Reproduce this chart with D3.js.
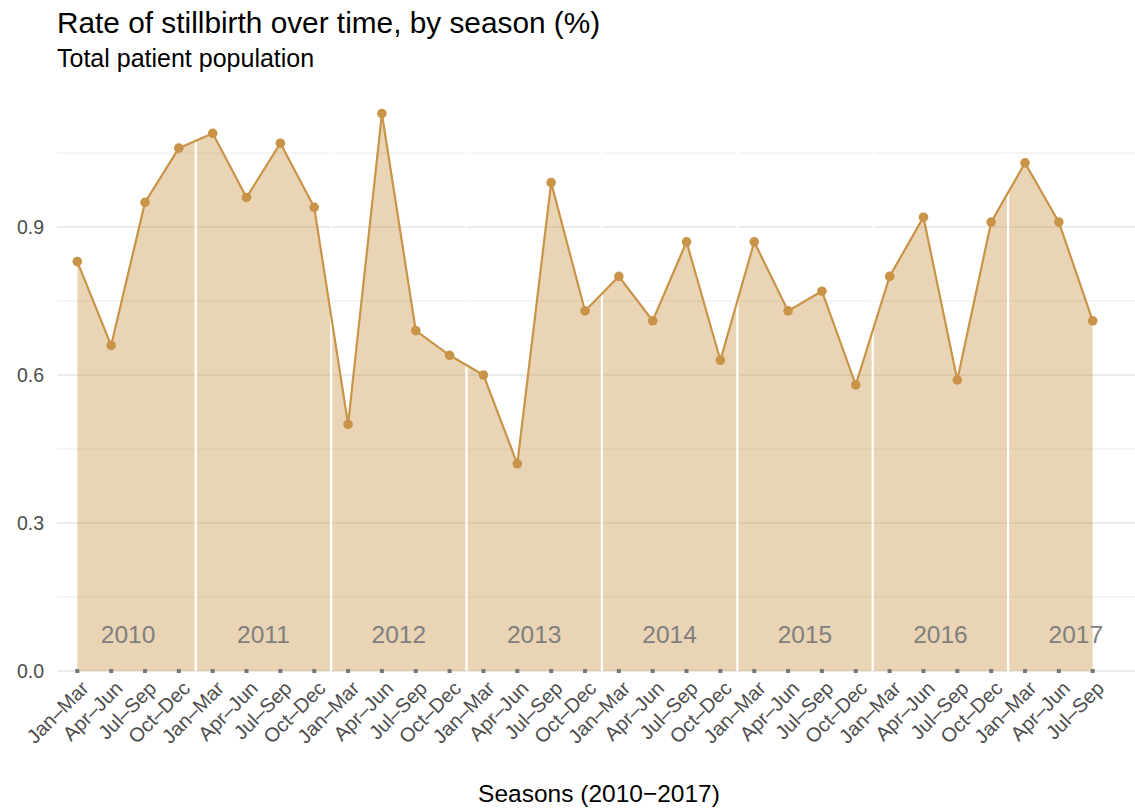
<!DOCTYPE html>
<html>
<head>
<meta charset="utf-8">
<script src="https://cdn.jsdelivr.net/npm/d3@7"></script>
<style>
  body { margin: 0; background: #fff; }
  svg { font-family: "Liberation Sans", Arial, sans-serif; }
</style>
</head>
<body>
<div id="chart"></div>
<script>
const years = [2010, 2011, 2012, 2013, 2014, 2015, 2016, 2017];
const seasons = ["Jan–Mar", "Apr–Jun", "Jul–Sep", "Oct–Dec"];
const rates = [
  0.83, 0.66, 0.95, 1.06,
  1.09, 0.96, 1.07, 0.94,
  0.50, 1.13, 0.69, 0.64,
  0.60, 0.42, 0.99, 0.73,
  0.80, 0.71, 0.87, 0.63,
  0.87, 0.73, 0.77, 0.58,
  0.80, 0.92, 0.59, 0.91,
  1.03, 0.91, 0.71
];
const majorTicks = [0, 0.3, 0.6, 0.9];
const minorTicks = [0.15, 0.45, 0.75, 1.05];

const data = rates.map((v, i) => ({
  key: years[Math.floor(i / 4)] + " " + seasons[i % 4],
  season: seasons[i % 4],
  year: years[Math.floor(i / 4)],
  value: v
}));

const W = 1135, H = 810;
const panel = { left: 57, right: 1135, top: 84, bottom: 671 };
const lineColor = "#c99447";

const svg = d3.select("#chart").append("svg")
  .attr("width", W)
  .attr("height", H);

const x = d3.scalePoint()
  .domain(data.map(d => d.key))
  .range([panel.left, 1113])
  .padding(0.6);

const y = d3.scaleLinear()
  .domain([0, 1.19])
  .range([panel.bottom, panel.top]);

// grid
svg.append("g").selectAll("line")
  .data(minorTicks)
  .join("line")
  .attr("x1", panel.left).attr("x2", panel.right)
  .attr("y1", d => y(d)).attr("y2", d => y(d))
  .attr("stroke", "#ebebeb").attr("stroke-width", 1);

svg.append("g").selectAll("line")
  .data(majorTicks)
  .join("line")
  .attr("x1", panel.left).attr("x2", panel.right)
  .attr("y1", d => y(d)).attr("y2", d => y(d))
  .attr("stroke", "#ebebeb").attr("stroke-width", 2);

// area + line
const area = d3.area()
  .x(d => x(d.key))
  .y0(y(0))
  .y1(d => y(d.value));

svg.append("path")
  .datum(data)
  .attr("d", area)
  .attr("fill", lineColor)
  .attr("fill-opacity", 0.4);

// year separators
const step = x.step();
const boundaries = data.filter((d, i) => i % 4 === 3 && i < data.length - 1);
svg.append("g").selectAll("line")
  .data(boundaries)
  .join("line")
  .attr("x1", d => x(d.key) + step / 2)
  .attr("x2", d => x(d.key) + step / 2)
  .attr("y1", panel.top).attr("y2", panel.bottom)
  .attr("stroke", "#fff").attr("stroke-width", 2.2);

svg.append("path")
  .datum(data)
  .attr("d", d3.line().x(d => x(d.key)).y(d => y(d.value)))
  .attr("fill", "none")
  .attr("stroke", lineColor)
  .attr("stroke-width", 2.2);

svg.append("g").selectAll("circle")
  .data(data)
  .join("circle")
  .attr("cx", d => x(d.key))
  .attr("cy", d => y(d.value))
  .attr("r", 4.8)
  .attr("fill", lineColor);

// year labels
svg.append("g").selectAll("text")
  .data(years)
  .join("text")
  .attr("x", (d, i) => x(data[i * 4 + 1].key) + step / 2)
  .attr("y", 643)
  .attr("text-anchor", "middle")
  .attr("fill", "#7f7f7f")
  .attr("font-size", 24.5)
  .text(d => d);

// tick marks
svg.append("g").selectAll("rect")
  .data(data)
  .join("rect")
  .attr("x", d => x(d.key) - 2)
  .attr("y", panel.bottom - 2)
  .attr("width", 4).attr("height", 4)
  .attr("fill", "#777");

// x tick labels
svg.append("g").selectAll("text")
  .data(data)
  .join("text")
  .attr("transform", d => `translate(${x(d.key) + 2},${panel.bottom + 8}) rotate(-45)`)
  .attr("text-anchor", "end")
  .attr("dy", "0.75em")
  .attr("fill", "#4d4d4d")
  .attr("font-size", 20)
  .text(d => d.season);

// y axis labels
const yAxis = svg.append("g")
  .attr("transform", `translate(${panel.left - 10},0)`)
  .call(d3.axisLeft(y).tickValues(majorTicks).tickFormat(d3.format(".1f")).tickSize(0));
yAxis.select(".domain").remove();
yAxis.selectAll("text")
  .attr("font-family", "Liberation Sans, Arial, sans-serif")
  .attr("font-size", 19.5)
  .attr("fill", "#4d4d4d");

// titles
svg.append("text")
  .attr("x", panel.left).attr("y", 33)
  .attr("font-size", 29.8)
  .attr("fill", "#000")
  .text("Rate of stillbirth over time, by season (%)");

svg.append("text")
  .attr("x", panel.left).attr("y", 67)
  .attr("font-size", 25)
  .attr("fill", "#000")
  .text("Total patient population");

svg.append("text")
  .attr("x", 599).attr("y", 802)
  .attr("text-anchor", "middle")
  .attr("font-size", 24.5)
  .attr("fill", "#000")
  .text("Seasons (2010−2017)");
</script>
</body>
</html>
